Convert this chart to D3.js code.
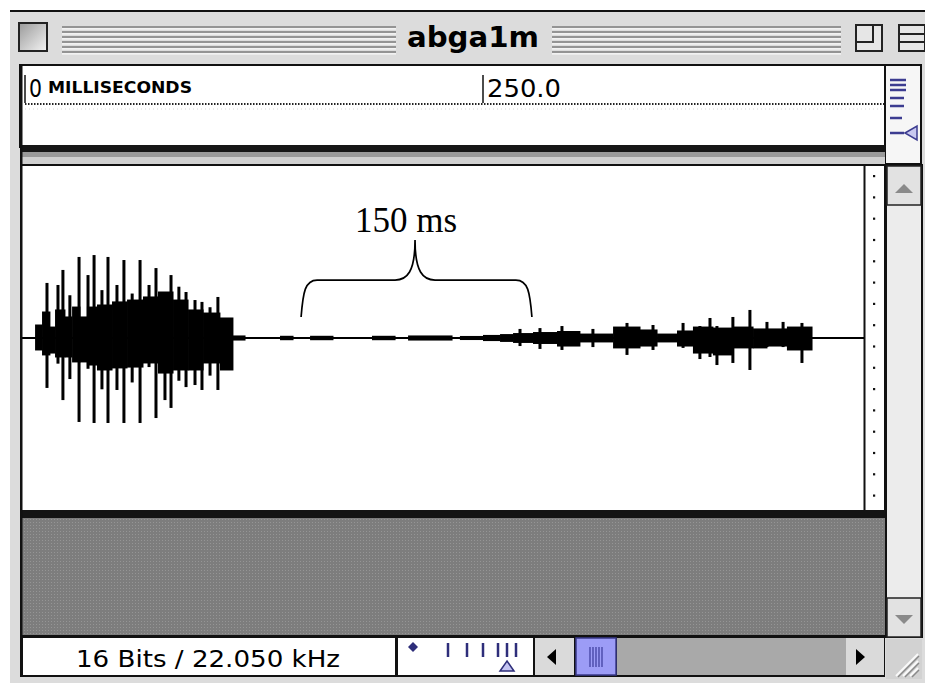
<!DOCTYPE html>
<html lang="en">
<head>
<meta charset="utf-8">
<title>abga1m</title>
<script src="https://cdnjs.cloudflare.com/ajax/libs/d3/7.8.5/d3.min.js"></script>
<style>
  body { margin: 0; background: #fff; }
  svg { display: block; }
</style>
</head>
<body>
<svg id="svg" width="925" height="683"></svg>
<script>
// ---- data: time in ms, amplitude in % of full scale
var titleText = "abga1m";
var statusText = "16 Bits / 22.050 kHz";
var noteText = "150 ms";
var rulerTicks = [0, 250];
var rulerLabels = ["0", "250.0"];
var rulerUnit = "MILLISECONDS";

// waveform body, one block per start time (runs to next start)
var bodyStart = [5.5, 9.3, 13.6, 16.4, 21.8, 25.7, 30.0, 33.8, 39.3, 47.5, 55.7, 64.4, 72.6, 80.8, 89.0, 97.2, 106.4,
                 113.5, 120.1, 139.2, 146.3, 155.6, 168.1, 189.4, 202.0, 209.1, 233.1, 237.4, 250.0, 259.3, 266.4,
                 277.3, 290.4, 302.9, 321.0, 335.7, 345.0, 355.9, 364.6, 375.5, 386.4, 397.4, 405.0, 415.9];
var bodyHi    = [7.6, 15.2, 6.4, 16.4, 12.3, 18.1, 12.3, 18.1, 19.3, 21.1, 22.2, 24.0, 26.9, 22.2, 16.4, 14.6, 11.7,
                 1.2, 0, 1.0, 0, 1.0, 0, 1.0, 0, 1.2, 0, 0.9, 1.5, 2.0, 2.6,
                 3.2, 3.8, 2.3, 6.4, 4.7, 2.3, 4.1, 6.4, 5.8, 6.4, 5.3, 5.3, 6.4];
var bodyLo    = [-7.0, -9.9, -8.8, -11.1, -11.1, -14.0, -14.0, -15.8, -18.7, -17.5, -17.0, -14.6, -20.5, -18.7, -18.7, -14.6, -18.7,
                 -1.2, 0, -1.0, 0, -1.0, 0, -1.0, 0, -1.2, 0, -0.9, -1.5, -2.0, -2.6,
                 -3.2, -4.7, -2.3, -5.8, -4.7, -2.3, -4.7, -8.8, -9.9, -5.8, -5.8, -4.7, -7.0];
var bodyEnd = 429.6;

// narrow peaks
var spikeAt = [12.0, 18.0, 20.7, 24.5, 29.5, 34.4, 37.7, 42.0, 45.3, 50.2, 54.0, 58.5, 62.8, 67.7, 71.5, 76.4, 79.7, 84.0, 87.9, 92.8, 96.6, 101.0, 105.3, 111.9,
               270.2, 281.1, 293.1, 310.0, 328.6, 342.8, 359.2, 368.4, 373.9, 377.7, 386.4, 395.7, 405.0, 413.8, 424.1];
var spikeHi = [32.2, 31.0, 39.8, 25.0, 47.4, 36.8, 48.5, 28.0, 47.4, 31.0, 45.6, 26.0, 45.6, 31.0, 40.9, 20.0, 36.8, 30.0, 26.9, 22.2, 21.1, 18.0, 24.0, 11.7,
               5.3, 5.8, 7.0, 5.3, 8.8, 7.6, 8.8, 7.0, 11.7, 7.0, 12.3, 16.4, 9.4, 9.4, 8.8];
var spikeLo = [-29.2, -15.0, -36.3, -24.0, -49.1, -18.0, -49.7, -30.0, -49.7, -30.4, -49.7, -26.0, -49.7, -17.0, -46.8, -36.3, -40.9, -25.0, -28.7, -27.5, -30.4, -22.0, -30.4, -18.7,
               -4.7, -6.4, -7.0, -5.3, -9.9, -7.0, -5.8, -12.3, -11.1, -15.8, -14.6, -18.7, -5.3, -5.3, -14.6];

// brace annotation: left end, peak, right end (ms) and levels (%)
var braceT = [150.7, 212.9, 276.7];
var braceAmp = [12.3, 33.9, 57.3];

// ---- scales
var x = d3.scaleLinear().domain([0, 250]).range([25, 483]);
var y = d3.scaleLinear().domain([-100, 100]).range([509, 167]);

var svg = d3.select("svg#svg");
var defs = svg.append("defs");

var hatch = defs.append("pattern").attr("id", "hatch").attr("width", 3).attr("height", 3)
    .attr("patternUnits", "userSpaceOnUse");
hatch.append("rect").attr("width", 3).attr("height", 3).attr("fill", "#7d7d7d");
hatch.append("rect").attr("width", 1).attr("height", 1).attr("fill", "#959595");

var boxGrad = defs.append("linearGradient").attr("id", "boxGrad")
    .attr("x1", 0).attr("y1", 0).attr("x2", 1).attr("y2", 1);
boxGrad.append("stop").attr("offset", "0%").attr("stop-color", "#9a9a9a");
boxGrad.append("stop").attr("offset", "100%").attr("stop-color", "#f4f4f4");

defs.append("clipPath").attr("id", "waveClip")
  .append("rect").attr("x", 22).attr("y", 167).attr("width", 842).attr("height", 343);

// ---- window frame
svg.append("rect").attr("x", 10).attr("y", 10).attr("width", 915).attr("height", 673).attr("fill", "#dcdcdc");
svg.append("rect").attr("x", 10).attr("y", 10).attr("width", 915).attr("height", 2).attr("fill", "#111");

// title bar stripes
[[62, 396], [552, 841]].forEach(function(s) {
    d3.range(27, 53, 5).forEach(function(yy) {
        svg.append("line").attr("x1", s[0]).attr("x2", s[1]).attr("y1", yy).attr("y2", yy)
            .attr("stroke", "#7d7d7d").attr("stroke-width", 1.5);
        svg.append("line").attr("x1", s[0]).attr("x2", s[1]).attr("y1", yy + 1.8).attr("y2", yy + 1.8)
            .attr("stroke", "#fafafa").attr("stroke-width", 1.2);
    });
});
svg.append("text").attr("x", 473).attr("y", 47)
    .attr("text-anchor", "middle")
    .attr("font-family", "'DejaVu Sans Condensed', 'DejaVu Sans', sans-serif")
    .attr("font-weight", "bold").attr("font-size", 29)
    .attr("textLength", 132).attr("lengthAdjust", "spacingAndGlyphs")
    .text(titleText);

// close box
svg.append("rect").attr("x", 19).attr("y", 23).attr("width", 28).attr("height", 28)
    .attr("fill", "url(#boxGrad)").attr("stroke", "#222").attr("stroke-width", 2);
// zoom box
svg.append("rect").attr("x", 856).attr("y", 25).attr("width", 26).attr("height", 26)
    .attr("fill", "#e6e6e6").attr("stroke", "#222").attr("stroke-width", 2);
svg.append("rect").attr("x", 856).attr("y", 25).attr("width", 17).attr("height", 17)
    .attr("fill", "none").attr("stroke", "#222").attr("stroke-width", 2);
// collapse box
svg.append("rect").attr("x", 899).attr("y", 25).attr("width", 26).attr("height", 26)
    .attr("fill", "#e6e6e6").attr("stroke", "#222").attr("stroke-width", 2);
svg.append("line").attr("x1", 899).attr("x2", 925).attr("y1", 34).attr("y2", 34).attr("stroke", "#222").attr("stroke-width", 2);
svg.append("line").attr("x1", 899).attr("x2", 925).attr("y1", 42).attr("y2", 42).attr("stroke", "#222").attr("stroke-width", 2);

// ---- ruler panel
svg.append("rect").attr("x", 20).attr("y", 65).attr("width", 865).attr("height", 82)
    .attr("fill", "#fff").attr("stroke", "#111").attr("stroke-width", 2);
svg.append("line").attr("x1", 25).attr("x2", 885).attr("y1", 104).attr("y2", 104)
    .attr("stroke", "#222").attr("stroke-width", 1.8).attr("stroke-dasharray", "1.5,1.5");
svg.append("line").attr("x1", 25).attr("x2", 885).attr("y1", 109).attr("y2", 109)
    .attr("stroke", "#d8d8d8").attr("stroke-width", 1).attr("stroke-dasharray", "1,3");

var ruler = svg.append("g");
rulerTicks.forEach(function(t, i) {
    ruler.append("line").attr("x1", x(t)).attr("x2", x(t)).attr("y1", 75).attr("y2", 103)
        .attr("stroke", "#111").attr("stroke-width", 1.5);
    ruler.append("text").attr("x", x(t) + 4).attr("y", 97)
        .attr("font-family", "'DejaVu Sans Condensed', 'DejaVu Sans', sans-serif")
        .attr("font-size", 25)
        .attr("textLength", i === 0 ? 13 : 74).attr("lengthAdjust", "spacingAndGlyphs")
        .text(rulerLabels[i]);
});
ruler.append("text").attr("x", x(0) + 23).attr("y", 93)
    .attr("font-family", "'DejaVu Sans Condensed', 'DejaVu Sans', sans-serif")
    .attr("font-weight", "bold").attr("font-size", 16)
    .attr("textLength", 144).attr("lengthAdjust", "spacingAndGlyphs")
    .text(rulerUnit);

// ruler zoom control (right)
svg.append("rect").attr("x", 885).attr("y", 65).attr("width", 36).attr("height", 99)
    .attr("fill", "#f6f6f6").attr("stroke", "#111").attr("stroke-width", 2);
[[80, 16], [85, 16], [90, 16], [98, 14], [106, 14], [118, 12], [133, 14]].forEach(function(l) {
    svg.append("line").attr("x1", 890).attr("x2", 890 + l[1]).attr("y1", l[0]).attr("y2", l[0])
        .attr("stroke", "#3c3c90").attr("stroke-width", 2.5);
});
svg.append("path").attr("d", "M905,133 L917,126 L917,140 Z")
    .attr("fill", "#c8c8f0").attr("stroke", "#3c3c90").attr("stroke-width", 1.5);

// separator between panels
svg.append("rect").attr("x", 20).attr("y", 145).attr("width", 865).attr("height", 7).attr("fill", "#161616");
svg.append("rect").attr("x", 20).attr("y", 152).attr("width", 865).attr("height", 5).attr("fill", "#9a9a9a");
svg.append("rect").attr("x", 20).attr("y", 157).attr("width", 865).attr("height", 7).attr("fill", "#d0d0d0");

// ---- waveform panel
svg.append("rect").attr("x", 21).attr("y", 165).attr("width", 864).attr("height", 347)
    .attr("fill", "#fff").attr("stroke", "#111").attr("stroke-width", 2);
svg.append("line").attr("x1", 864.5).attr("x2", 864.5).attr("y1", 165).attr("y2", 512)
    .attr("stroke", "#111").attr("stroke-width", 2);
d3.range(175, 510, 21.3).forEach(function(yy) {
    svg.append("rect").attr("x", 873).attr("y", yy).attr("width", 2.2).attr("height", 2.2).attr("fill", "#111");
});

var wave = svg.append("g").attr("clip-path", "url(#waveClip)");
wave.append("rect").attr("x", 22).attr("width", 842).attr("y", y(0) - 1).attr("height", 2).attr("fill", "#000");

wave.selectAll("rect.body").data(bodyStart).join("rect").attr("class", "body")
    .attr("x", function(d) { return x(d); })
    .attr("width", function(d, i) {
        var t1 = i + 1 < bodyStart.length ? bodyStart[i + 1] : bodyEnd;
        return x(t1) - x(d) + 0.5;
    })
    .attr("y", function(d, i) { return y(bodyHi[i]) - 0.5; })
    .attr("height", function(d, i) { return y(bodyLo[i]) - y(bodyHi[i]) + 1; })
    .attr("fill", "#000");

wave.selectAll("rect.spike").data(spikeAt).join("rect").attr("class", "spike")
    .attr("x", function(d) { return x(d) - 1.5; })
    .attr("width", 3)
    .attr("y", function(d, i) { return y(spikeHi[i]); })
    .attr("height", function(d, i) { return y(spikeLo[i]) - y(spikeHi[i]); })
    .attr("fill", "#000");

// brace + note
var bx0 = x(braceT[0]), bxm = x(braceT[1]), bx2 = x(braceT[2]);
var by0 = y(braceAmp[0]), byh = y(braceAmp[1]), byp = y(braceAmp[2]);
var bp = d3.path();
bp.moveTo(bx0, by0);
bp.bezierCurveTo(bx0 + 2, byh + 12, bx0 + 4, byh, bx0 + 16, byh);
bp.lineTo(bxm - 20, byh);
bp.bezierCurveTo(bxm - 8, byh, bxm, byh - 8, bxm, byp);
bp.moveTo(bxm, byp);
bp.bezierCurveTo(bxm, byh - 8, bxm + 8, byh, bxm + 20, byh);
bp.lineTo(bx2 - 16, byh);
bp.bezierCurveTo(bx2 - 4, byh, bx2 - 2, byh + 12, bx2, by0);
svg.append("path").attr("d", bp.toString()).attr("fill", "none")
    .attr("stroke", "#000").attr("stroke-width", 1.7);
svg.append("text").attr("x", bxm - 9).attr("y", byp - 8)
    .attr("text-anchor", "middle")
    .attr("font-family", "'Liberation Serif', 'Times New Roman', serif")
    .attr("font-size", 35)
    .text(noteText);

// ---- lower gray area
svg.append("rect").attr("x", 20).attr("y", 510).attr("width", 865).attr("height", 8).attr("fill", "#141414");
svg.append("rect").attr("x", 20).attr("y", 518).attr("width", 865).attr("height", 117).attr("fill", "url(#hatch)");
svg.append("rect").attr("x", 20).attr("y", 65).attr("width", 2.5).attr("height", 612).attr("fill", "#111");

// ---- right scroll bar
svg.append("rect").attr("x", 886).attr("y", 165).attr("width", 36).attr("height", 472)
    .attr("fill", "#ececec").attr("stroke", "#111").attr("stroke-width", 2);
svg.append("rect").attr("x", 887).attr("y", 166).attr("width", 34).attr("height", 39)
    .attr("fill", "#e2e2e2").attr("stroke", "#222").attr("stroke-width", 1.5);
svg.append("path").attr("d", "M895,193 L904,184 L913,193 Z").attr("fill", "#8a8a8a");
svg.append("rect").attr("x", 887).attr("y", 598).attr("width", 34).attr("height", 39)
    .attr("fill", "#e2e2e2").attr("stroke", "#222").attr("stroke-width", 1.5);
svg.append("path").attr("d", "M895,615 L904,624 L913,615 Z").attr("fill", "#8a8a8a");

// ---- status bar
svg.append("rect").attr("x", 20).attr("y", 635).attr("width", 865).attr("height", 42).attr("fill", "#111");
svg.append("rect").attr("x", 23).attr("y", 638).attr("width", 372).attr("height", 37).attr("fill", "#fff");
svg.append("text").attr("x", 208).attr("y", 667)
    .attr("text-anchor", "middle")
    .attr("font-family", "'DejaVu Sans Condensed', 'DejaVu Sans', sans-serif")
    .attr("font-size", 23)
    .attr("textLength", 264).attr("lengthAdjust", "spacingAndGlyphs")
    .text(statusText);

svg.append("rect").attr("x", 398).attr("y", 638).attr("width", 135).attr("height", 37).attr("fill", "#fff");
svg.append("path").attr("d", "M413,642 L418,647 L413,652 L408,647 Z").attr("fill", "#2e2e7a");
[448, 467, 483, 498, 507, 516].forEach(function(tx) {
    svg.append("line").attr("x1", tx).attr("x2", tx).attr("y1", 643).attr("y2", 657)
        .attr("stroke", "#2e2e7a").attr("stroke-width", 2.5);
});
svg.append("path").attr("d", "M507,661 L514,671 L500,671 Z")
    .attr("fill", "#c4c4f2").attr("stroke", "#2e2e7a").attr("stroke-width", 1.5);

svg.append("rect").attr("x", 535).attr("y", 638).attr("width", 39).attr("height", 37).attr("fill", "#dadada");
svg.append("path").attr("d", "M547,657 L556,649 L556,665 Z").attr("fill", "#000");
svg.append("rect").attr("x", 576).attr("y", 638).attr("width", 40).attr("height", 37)
    .attr("fill", "#9c9cf6").attr("stroke", "#3a3a8a").attr("stroke-width", 1.5);
d3.range(590, 604, 3).forEach(function(lx) {
    svg.append("line").attr("x1", lx).attr("x2", lx).attr("y1", 647).attr("y2", 667)
        .attr("stroke", "#3a3a9a").attr("stroke-width", 1.2);
});
svg.append("rect").attr("x", 617).attr("y", 638).attr("width", 229).attr("height", 37).attr("fill", "#a9a9a9");
svg.append("rect").attr("x", 846).attr("y", 638).attr("width", 38).attr("height", 37).attr("fill", "#dadada");
svg.append("path").attr("d", "M865,657 L856,649 L856,665 Z").attr("fill", "#000");

// grow box
svg.append("rect").attr("x", 886).attr("y", 639).attr("width", 36).attr("height", 40).attr("fill", "#d2d2d2");
[0, 7, 14].forEach(function(o) {
    svg.append("line").attr("x1", 896 + o).attr("y1", 676).attr("x2", 918).attr("y2", 654 + o)
        .attr("stroke", "#fafafa").attr("stroke-width", 2);
    svg.append("line").attr("x1", 898 + o).attr("y1", 677).attr("x2", 919).attr("y2", 656 + o)
        .attr("stroke", "#8a8a8a").attr("stroke-width", 1.5);
});
</script>
</body>
</html>
